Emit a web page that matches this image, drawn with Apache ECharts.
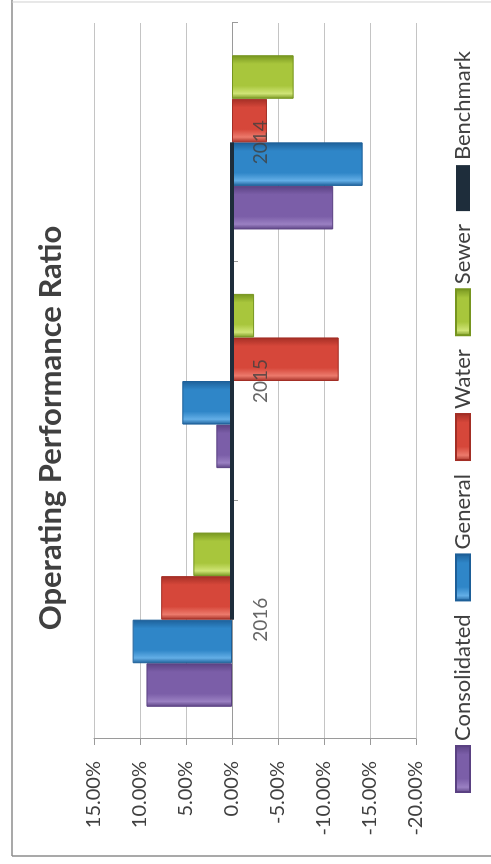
<!DOCTYPE html>
<html>
<head>
<meta charset="utf-8">
<script src="https://cdn.jsdelivr.net/npm/echarts@6/dist/echarts.min.js"></script>
<style>
  html, body { margin: 0; padding: 0; background: #ffffff; width: 491px; height: 864px; overflow: hidden; }
  /* The chart is laid out landscape and turned a quarter turn counter-clockwise */
  #frame {
    position: absolute; left: 0; top: 0;
    width: 864px; height: 491px;
    transform-origin: 0 0;
    transform: translate(0, 864px) rotate(-90deg);
  }
  #chart { width: 864px; height: 491px; }
</style>
</head>
<body>
<div id="frame"><div id="chart"></div></div>
<script>
// Operating performance ratio by fund, in percent
const years = ['2016', '2015', '2014'];
const consolidated = [9.3, 1.7, -11.0];
const general = [10.8, 5.4, -14.2];
const water = [7.7, -11.6, -3.8];
const sewer = [4.2, -2.4, -6.7];
const benchmark = [0, 0, 0];
const seriesNames = ['Consolidated', 'General', 'Water', 'Sewer', 'Benchmark'];
const axisMin = -20, axisMax = 15, axisStep = 5;

const FONT = 'Lato, "Open Sans", sans-serif';

// Bevelled look: darker rims, lighter band near one edge
function bevel(edge, light, base) {
  return new echarts.graphic.LinearGradient(0, 0, 1, 0, [
    { offset: 0, color: edge },
    { offset: 0.12, color: light },
    { offset: 0.3, color: base },
    { offset: 0.8, color: base },
    { offset: 1, color: edge }
  ]);
}

const palette = {
  Consolidated: { edge: '#5a4182', light: '#9a80c2', base: '#7b5ea8' },
  General:      { edge: '#1d5f98', light: '#63aee6', base: '#2f86c8' },
  Water:        { edge: '#a32e25', light: '#ec7a6c', base: '#d6473a' },
  Sewer:        { edge: '#76951f', light: '#cfe476', base: '#a8c63c' }
};

function barSeries(name, values) {
  const p = palette[name];
  return {
    name: name,
    type: 'bar',
    data: values,
    barGap: '0%',
    barCategoryGap: '27%',
    itemStyle: {
      color: bevel(p.edge, p.light, p.base),
      borderColor: p.edge,
      borderWidth: 1
    },
    emphasis: { disabled: true }
  };
}

const chart = echarts.init(document.getElementById('chart'), null, { renderer: 'canvas' });

chart.setOption({
  backgroundColor: '#ffffff',
  animation: false,
  textStyle: { fontFamily: FONT },
  title: {
    text: 'Operating Performance Ratio',
    left: 431,
    textAlign: 'center',
    top: 30,
    textStyle: { fontFamily: FONT, fontSize: 31, fontWeight: 'bold', color: '#404040' }
  },
  legend: {
    data: seriesNames,
    left: 66,
    top: 447,
    orient: 'horizontal',
    itemWidth: 46,
    itemHeight: 14,
    itemGap: 13,
    icon: 'rect',
    textStyle: { fontFamily: FONT, fontSize: 22, color: '#404040' }
  },
  grid: { left: 125, right: 23, top: 94, bottom: 75, containLabel: false },
  xAxis: {
    type: 'category',
    data: years,
    axisLine: { onZero: true, lineStyle: { color: '#9a9a9a', width: 1 } },
    axisTick: { show: true, length: 6, lineStyle: { color: '#9a9a9a' } },
    axisLabel: { show: false },
    splitLine: { show: false }
  },
  yAxis: {
    type: 'value',
    min: axisMin,
    max: axisMax,
    interval: axisStep,
    axisLine: { show: true, lineStyle: { color: '#9a9a9a', width: 1 } },
    axisTick: { show: true, length: 6, lineStyle: { color: '#9a9a9a' } },
    axisLabel: {
      margin: 22,
      fontFamily: FONT,
      fontSize: 20,
      color: '#404040',
      formatter: v => v.toFixed(2) + '%'
    },
    splitLine: { show: true, lineStyle: { color: '#c4c4c4', width: 1 } }
  },
  series: [
    barSeries('Consolidated', consolidated),
    barSeries('General', general),
    barSeries('Water', water),
    barSeries('Sewer', sewer),
    {
      name: 'Benchmark',
      type: 'line',
      data: benchmark,
      symbol: 'none',
      z: 5,
      itemStyle: { color: '#1e2d3b' },
      lineStyle: { color: '#1e2d3b', width: 4 },
      emphasis: { disabled: true }
    },
    {
      // year labels sitting just under the zero line
      name: 'yearLabels',
      type: 'scatter',
      data: benchmark,
      symbolSize: 0,
      itemStyle: { color: 'rgba(0,0,0,0)' },
      z: 6,
      silent: true,
      label: {
        show: true,
        position: 'bottom',
        distance: 19,
        formatter: p => years[p.dataIndex],
        fontFamily: FONT,
        fontSize: 19,
        color: '#404040'
      }
    }
  ],
  graphic: [
    // outer frame of the chart area
    { type: 'line', shape: { x1: 8, y1: 12, x2: 864, y2: 12 }, style: { stroke: '#8c8c8c', lineWidth: 1.5 } },
    { type: 'line', shape: { x1: 8, y1: 12, x2: 8, y2: 491 }, style: { stroke: '#8c8c8c', lineWidth: 1.5 } },
    { type: 'line', shape: { x1: 862, y1: 12, x2: 862, y2: 491 }, style: { stroke: '#d0d0d0', lineWidth: 1 } }
  ]
});
</script>
</body>
</html>
